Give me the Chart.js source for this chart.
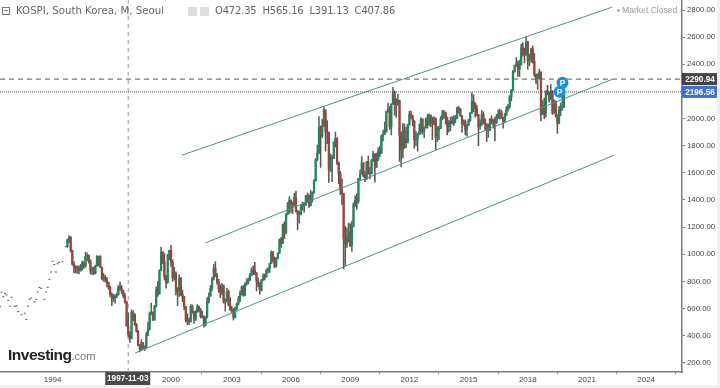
<!DOCTYPE html>
<html>
<head>
<meta charset="utf-8">
<title>KOSPI</title>
<script src="https://cdn.jsdelivr.net/npm/chart.js@4"></script>
<style>
  html, body { margin: 0; padding: 0; background: #fff; overflow: hidden; }
  #wrap { position: relative; width: 720px; height: 388px; background: #fff; }
  #stripRight { position: absolute; left: 717px; top: 0; width: 3px; height: 388px; background: #eef0f2; }
  #stripBottom { position: absolute; left: 0; top: 385px; width: 720px; height: 3px; background: #eef0f2; }
  canvas { position: absolute; left: 0; top: 0; }
  .txt { position: absolute; white-space: nowrap; font-family: "DejaVu Sans", sans-serif; color: #666; }
  #title { left: 16px; top: 4px; font-size: 10.2px; line-height: 14px; }
  #ohlc { left: 215px; top: 4px; font-size: 10px; line-height: 14px; letter-spacing: -0.2px; }
  #closed { left: 622px; top: 5px; font-size: 8.6px; line-height: 11px; color: #999; font-family: "Liberation Sans", sans-serif; }
  #logo { left: 8px; top: 345px; font: bold 15.5px/20px "Liberation Sans", sans-serif; color: #222; letter-spacing: -0.5px; }
  #logo span { font-weight: normal; font-size: 11px; color: #777; letter-spacing: 0; }
  .box { position: absolute; box-sizing: border-box; }
  #icon1 { left: 2px; top: 7px; width: 8px; height: 8px; border: 1px solid #777; }
  #icon1 i { position: absolute; left: 1px; top: 2px; width: 4px; height: 1px; background: #777; }
  #icon2 { left: 188px; top: 7px; width: 9px; height: 9px; background: #ddd; }
  #icon3 { left: 200px; top: 7px; width: 9px; height: 9px; background: #ddd; }
  #dot { left: 617px; top: 9px; width: 3px; height: 3px; border-radius: 2px; background: #aaa; }
</style>
</head>
<body>
<div id="wrap">
  <canvas id="myChart" width="720" height="388"></canvas>
  <div id="stripRight"></div>
  <div id="stripBottom"></div>
  <div class="box" id="icon1"><i></i></div>
  <div class="txt" id="title">KOSPI, South Korea, M, Seoul</div>
  <div class="box" id="icon2"></div>
  <div class="box" id="icon3"></div>
  <div class="txt" id="ohlc">O472.35&nbsp; H565.16&nbsp; L391.13&nbsp; C407.86</div>
  <div class="box" id="dot"></div>
  <div class="txt" id="closed">Market Closed</div>
  <div class="txt" id="logo">Investing<span>.com</span></div>
</div>
<script>
// month index 0 = May 1991, candles start at Oct 1994
const firstCandle = 41;

// early months only have a close, drawn as small dashes
const dashIndex = [0,1,2,3,4,5,6,7,9,10,11,13,15,16,17,18,19,21,22,23,24,25,27,28,29,30,31,32,33,34,35,36,38,40];
const dashPrice = [613,720,687,712,700,660,618,683,616,621,577,554,565,520,618,668,678,648,668,722,756,749,668,722,756,815,869,948,923,869,930,940,945,1056];

const opens = [
  1056,1108,1127,
  1027,926,903,893,897,880,898,934,911,985,990,950,
  882,889,861,914,985,985,904,820,830,815,790,760,
  704,674,677,691,703,758,745,727,695,647,472.35,408,
  376,567,558,481,434,331,297,346,310,311,404,452,
  562,572,519,618,738,708,883,1018,943,836,791,993,
  1028,943,828,860,725,731,821,705,688,613,514,512,
  504,617,578,523,577,612,595,541,545,479,537,651,
  693,748,819,895,846,796,742,717,764,646,658,724,
  627,591,576,535,600,633,670,712,759,697,783,797,
  810,848,883,880,862,803,785,735,810,835,834,878,
  895,932,1011,965,911,970,1008,1111,1083,1221,1158,1297,
  1379,1399,1371,1359,1419,1317,1295,1297,1352,1371,1364,1432,
  1434,1360,1417,1452,1542,1700,1743,1933,1873,1946,2065,1906,
  1897,1624,1711,1704,1825,1852,1674,1594,1474,1448,1113,1076,
  1124,1162,1063,1206,1369,1395,1390,1557,1591,1673,1580,1555,
  1682,1602,1594,1692,1741,1641,1698,1759,1742,1872,1882,1904,
  2051,2069,1939,2106,2192,2142,2100,2133,1880,1769,1909,1847,
  1825,1955,2030,2014,1981,1843,1854,1881,1905,1996,1912,1932,
  1997,1961,2026,2004,1963,2001,1863,1914,1926,1997,2030,2044,
  2011,1941,1980,1985,1961,1995,2002,2076,2068,2020,1964,1980,
  1916,1949,1985,2041,2127,2114,2074,2030,1941,1963,2029,1991,
  1961,1912,1916,1996,1994,1983,1970,2016,2034,2043,2008,1983,
  2026,2067,2091,2160,2205,2347,2391,2402,2363,2394,2523,2476,
  2467,2566,2427,2445,2515,2423,2326,2295,2322,2343,2029,2096,
  2041,2204,2195,2140,2203,2041,2130,2024,1967,2063,2083,2087
];
const highs = [
  1112,1138,1130,
  1030,945,915,915,915,925,950,945,1016,1010,995,960,
  905,905,920,990,986,990,905,860,845,830,795,765,
  715,705,700,715,770,795,770,735,710,655,565.16,430,
  590,585,560,490,440,335,370,350,325,425,500,575,
  640,575,622,760,800,885,1052,1015,1005,845,1000,1030,
  1066,960,905,870,755,850,830,735,690,615,560,530,
  630,625,580,585,630,620,600,580,545,540,680,715,
  770,830,925,945,860,815,775,785,775,670,750,735,
  680,615,600,610,640,690,730,765,770,790,820,825,
  860,900,915,940,865,825,790,815,855,855,890,900,
  935,1025,1022,980,975,1010,1112,1125,1222,1240,1297,1380,
  1425,1400,1385,1450,1465,1325,1315,1365,1385,1380,1433,1450,
  1440,1470,1460,1550,1705,1805,2015,1945,1995,2085,2040,1985,
  1900,1740,1730,1830,1900,1860,1680,1610,1555,1450,1205,1195,
  1230,1225,1245,1380,1430,1445,1560,1620,1720,1675,1610,1685,
  1725,1640,1700,1760,1740,1745,1785,1795,1880,1915,1975,2055,
  2115,2090,2110,2230,2205,2145,2180,2135,1900,1965,1960,1935,
  1960,2055,2055,2025,1985,1905,1890,1960,2005,2000,1940,2005,
  2030,2035,2025,2010,2015,2005,1940,1945,2015,2060,2060,2050,
  2010,1985,2010,2015,2020,2025,2085,2090,2075,2020,1990,1990,
  1960,1995,2045,2190,2175,2115,2100,2030,1990,2060,2050,2000,
  1960,1960,2000,2020,1990,2010,2030,2065,2070,2060,2010,2040,
  2090,2105,2170,2215,2355,2395,2450,2425,2430,2550,2560,2520,
  2607,2570,2475,2520,2535,2480,2330,2330,2365,2345,2135,2150,
  2205,2245,2185,2250,2205,2140,2115,2030,2090,2115,2160,2225
];
const lows = [
  1050,1085,1015,
  920,865,860,860,855,875,885,895,905,950,935,855,
  850,850,855,910,915,900,810,800,795,760,740,690,
  620,650,640,680,698,735,710,680,640,470,391.13,350,
  385,510,475,425,325,280,295,300,290,305,400,440,
  555,510,512,610,690,705,878,930,810,750,785,960,
  910,800,810,700,620,690,695,650,590,500,480,480,
  500,565,490,510,570,575,530,530,463,470,530,640,
  690,730,810,835,780,720,680,700,640,580,650,620,
  585,570,515,530,590,625,650,700,690,695,770,780,
  805,840,850,850,730,760,705,730,805,810,830,860,
  865,930,945,900,905,965,1005,1050,1078,1115,1150,1290,
  1300,1310,1300,1355,1310,1180,1230,1290,1325,1310,1360,1380,
  1345,1355,1385,1450,1540,1690,1745,1640,1860,1940,1760,1815,
  1530,1610,1535,1710,1790,1660,1520,1440,1365,892,918,1050,
  1090,1055,1020,1200,1350,1330,1375,1550,1590,1570,1535,1550,
  1590,1555,1590,1685,1532,1640,1690,1720,1750,1835,1890,1900,
  2045,1920,1880,2105,2025,2010,2100,1685,1645,1710,1780,1785,
  1820,1950,2000,1945,1780,1800,1760,1880,1890,1885,1860,1930,
  1930,1950,1940,1845,1955,1770,1830,1845,1925,1990,2000,1960,
  1880,1900,1910,1960,1950,1970,2000,2040,2015,1900,1950,1880,
  1870,1950,1980,2040,2050,2010,2020,1800,1920,1950,1960,1915,
  1830,1860,1910,1960,1930,1835,1960,2000,1995,2000,1930,1970,
  2020,2055,2075,2130,2220,2340,2385,2310,2310,2395,2460,2410,
  2470,2365,2390,2415,2410,2310,2260,2215,2290,1985,2030,2000,
  2010,2175,2120,2140,2030,2040,2010,1891,1960,2020,2060,2080
];
const closes = [
  1108,1127,1027,
  926,903,893,897,880,898,934,911,985,990,950,882,
  889,861,914,985,985,904,820,830,815,790,760,704,
  674,677,691,703,758,745,727,695,647,470,407.86,376,
  567,558,481,434,331,297,346,310,311,404,452,562,
  572,519,618,738,708,883,1018,943,836,791,993,1028,
  943,828,860,725,731,821,705,688,613,514,512,504,
  617,578,523,577,612,595,541,545,479,537,651,693,
  748,819,895,846,796,742,717,764,646,658,724,627,
  591,576,535,600,633,670,712,759,697,783,797,810,
  848,883,880,862,803,785,735,810,835,834,878,895,
  932,1011,965,911,970,1008,1111,1083,1221,1158,1297,1379,
  1399,1371,1359,1419,1317,1295,1297,1352,1371,1364,1432,1434,
  1360,1417,1452,1542,1700,1743,1933,1873,1946,2065,1906,1897,
  1624,1711,1704,1825,1852,1674,1594,1474,1448,1113,1076,1124,
  1162,1063,1206,1369,1395,1390,1557,1591,1673,1580,1555,1682,
  1602,1594,1692,1741,1641,1698,1759,1742,1872,1882,1904,2051,
  2069,1939,2106,2192,2142,2100,2133,1880,1769,1909,1847,1825,
  1955,2030,2014,1981,1843,1854,1881,1905,1996,1912,1932,1997,
  1961,2026,2004,1963,2001,1863,1914,1926,1997,2030,2044,2011,
  1941,1980,1985,1961,1995,2002,2076,2068,2020,1964,1980,1916,
  1949,1985,2041,2127,2114,2074,2030,1941,1963,2029,1991,1961,
  1912,1916,1996,1994,1983,1970,2016,2034,2043,2008,1983,2026,
  2067,2091,2160,2205,2347,2391,2402,2363,2394,2523,2476,2467,
  2566,2427,2445,2515,2423,2326,2295,2322,2343,2029,2096,2041,
  2204,2195,2140,2203,2041,2130,2024,1967,2063,2083,2087,2196.56
];

// channel lines, [start, end] in month index and price
const lowerChannel = [{x: 82.2, y: 272}, {x: 373.7, y: 1731}];
const middleChannel = [{x: 124.8, y: 1083}, {x: 372.3, y: 2289}];
const upperChannel = [{x: 110.8, y: 1731}, {x: 372.5, y: 2822}];

const xMin = 0;
const xMax = 414.8;
const yMin = 132;
const yMax = 2874;

const crossIndex = 78;
const crossLabel = '1997-11-03';
const dashedPrice = 2290.94;
const lastPrice = 2196.56;
const markerIndex = [342.1, 340.4];
const markerPrice = [2264, 2198];

const xTicks = [32, 104, 141, 177, 213, 249, 285, 321, 357, 393];
const xLabels = ['1994', '2000', '2003', '2006', '2009', '2012', '2015', '2018', '2021', '2024'];
const yTicks = [200, 400, 600, 800, 1000, 1200, 1400, 1600, 1800, 2000, 2400, 2600, 2800];

const upColor = '#23855f';
const downColor = '#974640';
const channelColor = '#4b928e';
const axisColor = '#7d7d7d';

const bodyColors = opens.map((o, i) => closes[i] >= o ? upColor : downColor);
const wickColors = opens.map((o, i) => closes[i] >= o ? '#55635e' : '#5f5250');

function channelDataset(points) {
  return { type: 'line', data: points, borderColor: channelColor, borderWidth: 1, pointRadius: 0, order: 1 };
}

// price tags on the axis, the date tag and the P letters
const overlayPlugin = {
  id: 'overlay',
  afterDraw(chart) {
    const ctx = chart.ctx;
    const xs = chart.scales.x;
    const ys = chart.scales.y;
    ctx.save();
    ctx.textBaseline = 'middle';
    ctx.textAlign = 'center';

    ctx.font = 'bold 8.2px "Liberation Sans", sans-serif';
    const tags = [[dashedPrice, '#444444'], [lastPrice, '#3f6fd1']];
    tags.forEach(([price, color]) => {
      const y = ys.getPixelForValue(price);
      ctx.fillStyle = color;
      ctx.fillRect(xs.right, y - 6, 35, 12);
      ctx.fillStyle = '#fff';
      ctx.fillText(price.toFixed(2), xs.right + 18, y + 0.5);
    });

    const cx = xs.getPixelForValue(crossIndex);
    ctx.fillStyle = '#4a4a4a';
    ctx.fillRect(cx - 23, ys.bottom, 45, 13);
    ctx.fillStyle = '#fff';
    ctx.fillText(crossLabel, cx - 0.5, ys.bottom + 7);

    ctx.font = 'bold 8.5px "Liberation Sans", sans-serif';
    markerIndex.forEach((idx, i) => {
      ctx.fillText('P', xs.getPixelForValue(idx), ys.getPixelForValue(markerPrice[i]) + 0.5);
    });
    ctx.restore();
  }
};

const ctx = document.getElementById('myChart').getContext('2d');
new Chart(ctx, {
  type: 'bar',
  data: {
    datasets: [
      {
        data: opens.map((o, i) => ({ x: firstCandle + i, y: [o, closes[i]] })),
        backgroundColor: bodyColors,
        barThickness: 1.6,
        grouped: false,
        order: 3
      },
      {
        data: opens.map((o, i) => ({ x: firstCandle + i, y: [lows[i], highs[i]] })),
        backgroundColor: wickColors,
        barThickness: 0.9,
        grouped: false,
        order: 4
      },
      {
        type: 'scatter',
        data: dashIndex.map((idx, i) => ({ x: idx, y: dashPrice[i] })),
        pointStyle: 'line',
        pointRadius: 1,
        borderColor: '#555',
        borderWidth: 1,
        order: 3
      },
      channelDataset(lowerChannel),
      channelDataset(middleChannel),
      channelDataset(upperChannel),
      {
        type: 'line',
        data: [{ x: xMin, y: dashedPrice }, { x: xMax, y: dashedPrice }],
        borderColor: '#555',
        borderWidth: 1,
        borderDash: [5, 4],
        pointRadius: 0,
        order: 2
      },
      {
        type: 'line',
        data: [{ x: xMin, y: lastPrice }, { x: xMax, y: lastPrice }],
        borderColor: '#445',
        borderWidth: 1,
        borderDash: [1, 1],
        pointRadius: 0,
        order: 2
      },
      {
        type: 'line',
        data: [{ x: crossIndex, y: yMin }, { x: crossIndex, y: yMax }],
        borderColor: '#aaa',
        borderWidth: 1.2,
        borderDash: [4, 4],
        pointRadius: 0,
        order: 5
      },
      {
        type: 'scatter',
        data: markerIndex.map((idx, i) => ({ x: idx, y: markerPrice[i] })),
        pointStyle: 'circle',
        pointRadius: 6,
        backgroundColor: '#1b8fe3',
        borderWidth: 0,
        order: 0
      }
    ]
  },
  options: {
    responsive: false,
    animation: false,
    layout: { padding: 0, autoPadding: false },
    plugins: { legend: { display: false }, tooltip: { enabled: false }, title: { display: false } },
    scales: {
      x: {
        type: 'linear',
        min: xMin,
        max: xMax,
        offset: false,
        afterBuildTicks(scale) { scale.ticks = xTicks.map(v => ({ value: v })); },
        afterFit(scale) { scale.height = 16; scale.paddingLeft = 0; scale.paddingRight = 0; },
        grid: { drawOnChartArea: false, tickLength: 2, tickColor: axisColor },
        border: { color: axisColor, width: 1.5 },
        ticks: {
          autoSkip: false,
          maxRotation: 0,
          padding: 1,
          color: '#444',
          font: { family: '"Liberation Sans", sans-serif', size: 8 },
          callback: (v, i) => xLabels[i]
        }
      },
      y: {
        type: 'linear',
        position: 'right',
        min: yMin,
        max: yMax,
        afterBuildTicks(scale) { scale.ticks = yTicks.map(v => ({ value: v })); },
        afterFit(scale) { scale.width = 38; scale.paddingTop = 0; scale.paddingBottom = 0; },
        grid: { drawOnChartArea: false, tickLength: 3, tickColor: axisColor },
        border: { color: axisColor, width: 1.5 },
        ticks: {
          autoSkip: false,
          padding: 2,
          color: '#444',
          font: { family: '"Liberation Sans", sans-serif', size: 7.8 },
          callback: v => v.toFixed(2)
        }
      }
    }
  },
  plugins: [overlayPlugin]
});
</script>
</body>
</html>
